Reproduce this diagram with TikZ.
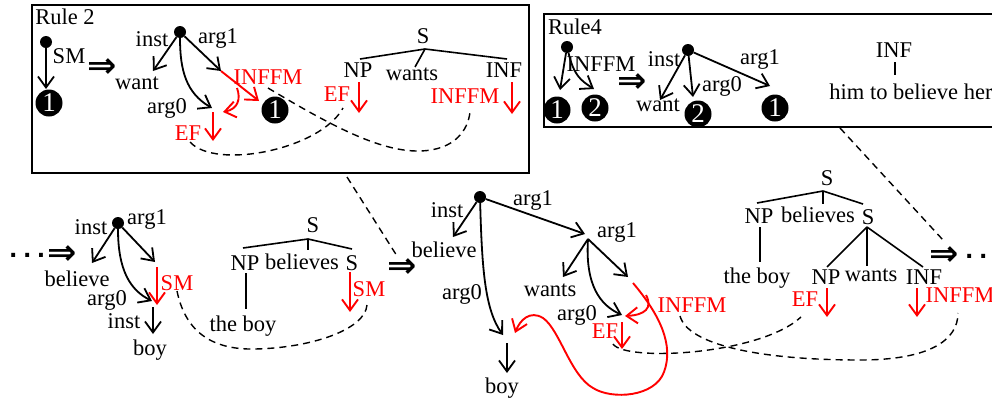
\documentclass[tikz,border=0pt]{standalone}
\usepackage{fontspec}
\setmainfont{Liberation Serif}
\newfontfamily\djs{DejaVu Sans}
\usetikzlibrary{arrows.meta}
\begin{document}
\begin{tikzpicture}[x=1pt,y=-1pt,
  every node/.style={font=\fontsize{22.5}{26}\selectfont, inner sep=0pt},
  ar/.style={-{Straight Barb[length=11pt,width=16pt]}, line width=1.8pt},
  rar/.style={ar, red, line width=1.9pt},
  dotn/.style={circle, fill=black, minimum size=12pt, inner sep=0pt},
  numc/.style={circle, fill=black, text=white, minimum size=27pt, inner sep=0pt, font=\fontsize{27}{27}\selectfont},
  dsh/.style={dash pattern=on 7pt off 5pt, line width=1.4pt},
  tr/.style={line width=1.6pt},
  frame/.style={line width=2.2pt},
  impl/.style={font=\djs\bfseries\fontsize{35}{35}\selectfont},
  dotsn/.style={font=\djs\bfseries\fontsize{22}{22}\selectfont}
]
\useasboundingbox (0,0) rectangle (992,402);

% ---------------- Rule 2 ----------------
\draw[frame] (32,5) rectangle (529,173);
\node (r2) at (65,17) {Rule 2};
\node[dotn] (a0) at (46,42) {};
\node[numc] (a1) at (49,103) {1};
\coordinate (a0t) at (46,89);
\draw[ar] (a0) -- (a0t);
\node (asm) at (69,56) {SM};
\node[impl] (ai) at (102,68) {⇒};

\node[dotn] (b0) at (180,32) {};
\node (binst) at (152,39) {inst};
\node (barg1) at (218,38) {arg1};
\node (bwant) at (137,83) {want};
\coordinate (bwt) at (153,71);
\draw[ar] (b0) -- (bwt);
\coordinate (ba1) at (221,71);
\draw[ar] (b0) -- (ba1);
\coordinate (ba0) at (212,108);
\draw[ar] (b0) .. controls (180,70) and (186,93) .. (ba0);
\node (barg0) at (167,108) {arg0};
\coordinate (bi1) at (259,101);
\draw[rar] (ba1) -- (bi1);
\node[red] (binf) at (268,77) {INFFM};
\coordinate (bh0) at (237,88);
\coordinate (bh1) at (223,112);
\draw[rar] (bh0) .. controls (241,99) and (238,109) .. (bh1);
\coordinate (be0) at (213,112);
\coordinate (be1) at (213,141);
\draw[rar] (be0) -- (be1);
\node[red] (bef) at (188,133) {EF};
\node[numc] (b1) at (275,110) {1};

\node (cS) at (423,36) {S};
\coordinate (cj) at (425,49);
\node (cNP) at (358,70) {NP};
\node (cw) at (412,74) {wants};
\node (cINF) at (504,70) {INF};
\coordinate (cjn) at (360,59);
\coordinate (cjw) at (415,67);
\coordinate (cji) at (507,59);
\draw[tr] (cj) -- (cjn);
\draw[tr] (cj) -- (cjw);
\draw[tr] (cj) -- (cji);
\node[red] (cef) at (337,94) {EF};
\coordinate (ce0) at (359,82);
\coordinate (ce1) at (359,113);
\draw[rar] (ce0) -- (ce1);
\node[red] (cinf) at (465,96) {INFFM};
\coordinate (ci0) at (512,82);
\coordinate (ci1) at (512,114);
\draw[rar] (ci0) -- (ci1);

\coordinate (dA0) at (268,88);
\coordinate (dAm) at (420,151);
\coordinate (dA1) at (470,112);
\draw[dsh] (dA0) .. controls (330,125) and (380,152) .. (dAm) .. controls (455,150) and (468,130) .. (dA1);
\coordinate (dB0) at (190,142);
\coordinate (dB1) at (343,108);
\draw[dsh] (dB0) .. controls (215,170) and (320,150) .. (dB1);

% ---------------- Rule 4 ----------------
\draw[frame] (544,14) rectangle (1000,127);
\node (r4) at (575,27) {Rule4};
\node[dotn] (e0) at (567,47) {};
\node (einf) at (601,64) {INFFM};
\coordinate (e1t) at (560,90);
\coordinate (e2t) at (594,89);
\draw[ar] (e0) -- (e1t);
\draw[ar] (e0) .. controls (574,75) and (580,80) .. (e2t);
\node[numc] (e1) at (557,110) {1};
\node[numc] (e2) at (595,108) {2};
\node[impl] (ei) at (632,83) {⇒};

\node[dotn] (f0) at (688,50) {};
\node (finst) at (664,59) {inst};
\node (fwant) at (658,105) {want};
\coordinate (fwt) at (660,100);
\draw[ar] (f0) -- (fwt);
\coordinate (fa0) at (693,97);
\draw[ar] (f0) -- (fa0);
\node (farg0) at (722,86) {arg0};
\node[numc] (f2) at (698,114) {2};
\coordinate (fa1) at (770,86);
\draw[ar] (f0) -- (fa1);
\node (farg1) at (760,59) {arg1};
\node[numc] (f1) at (775,108) {1};
\node (gINF) at (894,50) {INF};
\coordinate (gl0) at (895,62);
\coordinate (gl1) at (895,75);
\draw[tr] (gl0) -- (gl1);
\node (ghim) at (911,92) {him to believe her};

% connectors from the rule boxes
\coordinate (k0) at (347,177);
\coordinate (k1) at (397,256);
\draw[dsh] (k0) -- (k1);
\coordinate (m0) at (840,128);
\coordinate (m1) at (943,240);
\draw[dsh] (m0) -- (m1);

% ---------------- bottom left ----------------
\node[dotsn, anchor=west] (h0) at (9,255) {.\hspace{5.5pt}.\hspace{5.5pt}.};
\node[impl] (hi) at (62,255) {⇒};
\node[dotn] (p0) at (118,223) {};
\node (pinst) at (91,227) {inst};
\node (parg1) at (147,219) {arg1};
\node (pbel) at (77,279) {believe};
\coordinate (pbt) at (92,263);
\draw[ar] (p0) -- (pbt);
\coordinate (pa1) at (155,262);
\draw[ar] (p0) -- (pa1);
\coordinate (pa0) at (152,301);
\draw[ar] (p0) .. controls (118,270) and (130,290) .. (pa0);
\node (parg0) at (107,300) {arg0};
\coordinate (ps0) at (157,267);
\coordinate (ps1) at (157,305);
\draw[rar] (ps0) -- (ps1);
\node[red] (psm) at (177,283) {SM};
\coordinate (pi0) at (153,307);
\coordinate (pi1) at (153,334);
\draw[ar] (pi0) -- (pi1);
\node (pinst2) at (124,321) {inst};
\node (pboy) at (150,350) {boy};

\node (qS) at (313,225) {S};
\coordinate (qj) at (308,239);
\node (qNP) at (245,263) {NP};
\node (qbel) at (302,262) {believes};
\node (qS2) at (352,263) {S};
\coordinate (qjn) at (243,248);
\coordinate (qjb) at (308,250);
\coordinate (qjs) at (352,249);
\draw[tr] (qj) -- (qjn);
\draw[tr] (qj) -- (qjb);
\draw[tr] (qj) -- (qjs);
\coordinate (qn0) at (246,273);
\coordinate (qn1) at (246,309);
\draw[tr] (qn0) -- (qn1);
\node (qboy) at (243,326) {the boy};
\coordinate (qs0) at (350,272);
\coordinate (qs1) at (350,312);
\draw[rar] (qs0) -- (qs1);
\node[red] (qsm) at (369,289) {SM};
\coordinate (dC0) at (177,291);
\coordinate (dCm) at (255,349);
\coordinate (dC1) at (367,305);
\draw[dsh] (dC0) .. controls (185,330) and (210,350) .. (dCm) .. controls (310,348) and (365,330) .. (dC1);

\node[impl] (mi) at (402,268) {⇒};

% ---------------- middle graph ----------------
\node[dotn] (u0) at (480,197) {};
\node (uinst) at (447,210) {inst};
\node (ubel) at (444,250) {believe};
\coordinate (ubt) at (453,237);
\draw[ar] (u0) -- (ubt);
\node (uarg1) at (533,200) {arg1};
\coordinate (u2) at (585,234);
\draw[ar] (u0) -- (u2);
\node (uarg1b) at (617,232) {arg1};
\coordinate (u0b) at (503,335);
\draw[ar] (u0) .. controls (482,270) and (485,310) .. (u0b);
\node (uarg0) at (462,294) {arg0};
\coordinate (ub0) at (507,343);
\coordinate (ub1) at (507,373);
\draw[ar] (ub0) -- (ub1);
\node (uboy) at (502,388) {boy};

\coordinate (v0) at (588,239);
\coordinate (vwt) at (563,277);
\draw[ar] (v0) -- (vwt);
\node (vwants) at (550,290) {wants};
\coordinate (vrt) at (628,277);
\draw[ar] (v0) -- (vrt);
\coordinate (va0) at (622,315);
\draw[ar] (v0) .. controls (585,285) and (600,305) .. (va0);
\node (varg0) at (577,315) {arg0};
\coordinate (ve0) at (622,322);
\coordinate (ve1) at (622,349);
\draw[rar] (ve0) -- (ve1);
\node[red] (vef) at (605,331) {EF};
\coordinate (vh0) at (646,295);
\coordinate (vh1) at (625,316);
\draw[rar] (vh0) .. controls (653,308) and (645,315) .. (vh1);
\node[red] (vinf) at (692,305) {INFFM};
\coordinate (w0) at (633,283);
\coordinate (wa) at (664,372);
\coordinate (wb) at (593,388);
\coordinate (wc) at (543,318);
\coordinate (w1) at (515,333);
\draw[rar] (w0) .. controls (660,315) and (674,345) .. (wa) .. controls (655,397) and (612,400) .. (wb) .. controls (570,375) and (560,330) .. (wc) .. controls (530,310) and (520,320) .. (w1);

% ---------------- right tree ----------------
\node (xS) at (827,178) {S};
\coordinate (xj) at (823,191);
\node (xNP) at (759,216) {NP};
\node (xbel) at (818,215) {believes};
\node (xS2) at (868,217) {S};
\coordinate (xjn) at (757,203);
\coordinate (xjb) at (823,204);
\coordinate (xjs) at (863,204);
\draw[tr] (xj) -- (xjn);
\draw[tr] (xj) -- (xjb);
\draw[tr] (xj) -- (xjs);
\coordinate (xn0) at (760,227);
\coordinate (xn1) at (760,262);
\draw[tr] (xn0) -- (xn1);
\node (xboy) at (757,278) {the boy};
\coordinate (yj) at (867,227);
\node (yNP) at (826,277) {NP};
\node (ywants) at (871,275) {wants};
\node (yINF) at (924,277) {INF};
\coordinate (yjn) at (827,267);
\coordinate (yjw) at (867,266);
\coordinate (yji) at (923,267);
\draw[tr] (yj) -- (yjn);
\draw[tr] (yj) -- (yjw);
\draw[tr] (yj) -- (yji);
\coordinate (ye0) at (827,288);
\coordinate (ye1) at (827,317);
\draw[rar] (ye0) -- (ye1);
\node[red] (yef) at (805,299) {EF};
\coordinate (yi0) at (917,288);
\coordinate (yi1) at (917,317);
\draw[rar] (yi0) -- (yi1);
\node[red] (yinf) at (960,295) {INFFM};
\node[impl] (zi) at (944,256) {⇒};
\node[dotsn, anchor=west] (zd) at (965,256) {.\hspace{5.5pt}.\hspace{5.5pt}.};

\coordinate (dD0) at (613,344);
\coordinate (dD1) at (801,317);
\draw[dsh] (dD0) .. controls (625,362) and (760,355) .. (dD1);
\coordinate (dE0) at (680,316);
\coordinate (dEm) at (860,360);
\coordinate (dE1) at (958,313);
\draw[dsh] (dE0) .. controls (688,345) and (760,360) .. (dEm) .. controls (930,360) and (958,340) .. (dE1);
\end{tikzpicture}
\end{document}
